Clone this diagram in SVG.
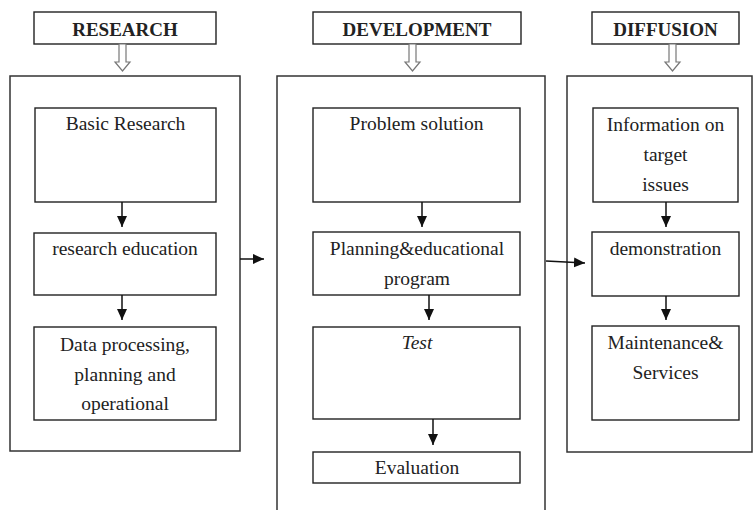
<svg xmlns="http://www.w3.org/2000/svg" width="754" height="510" viewBox="0 0 754 510">
<style>
  .box{fill:#fff;stroke:#222;stroke-width:1.4}
  .outer{fill:none;stroke:#333;stroke-width:1.5}
  .t{font-family:"Liberation Serif","Times New Roman","DejaVu Serif",serif;font-size:19.5px;fill:#222;text-anchor:middle}
  .h{font-weight:bold;font-size:19px}
  .it{font-style:italic}
  .c{stroke:#111;stroke-width:1.5;fill:none}
  .hollow{fill:#fff;stroke:#777;stroke-width:1.2}
</style>
<defs>
  <marker id="ah" markerUnits="userSpaceOnUse" markerWidth="12" markerHeight="12" viewBox="0 0 12 12" refX="11" refY="6" orient="auto">
    <path d="M0,1 L11,6 L0,11 Z" fill="#111"/>
  </marker>
</defs>
<rect width="754" height="510" fill="#fff"/>

<g id="research">
  <rect class="box" x="34" y="12" width="182" height="32"/>
  <text class="t h" x="125" y="36">RESEARCH</text>
  <polygon class="hollow" points="119,44 126,44 126,62 130,62 122.5,71 115,62 119,62"/>
  <rect class="outer" x="10" y="76" width="230" height="375"/>
</g>
<g id="basic-research">
  <rect class="box" x="35" y="108" width="181" height="94"/>
  <text class="t" x="125.5" y="130">Basic Research</text>
</g>
<g id="research-education">
  <rect class="box" x="34" y="233" width="182" height="62"/>
  <text class="t" x="125" y="255">research education</text>
</g>
<g id="data-processing">
  <rect class="box" x="34" y="327" width="182" height="93"/>
  <text class="t" x="125" y="351">Data processing,</text>
  <text class="t" x="125" y="381">planning and</text>
  <text class="t" x="125" y="410">operational</text>
</g>

<g id="development">
  <rect class="box" x="313" y="12" width="208" height="32"/>
  <text class="t h" x="417" y="36">DEVELOPMENT</text>
  <polygon class="hollow" points="409,44 416,44 416,62 420,62 412.5,71 405,62 409,62"/>
  <rect class="outer" x="277" y="76" width="268" height="440"/>
</g>
<g id="problem-solution">
  <rect class="box" x="313" y="108" width="207" height="94"/>
  <text class="t" x="416.5" y="130">Problem solution</text>
</g>
<g id="planning">
  <rect class="box" x="313" y="232" width="207" height="63"/>
  <text class="t" x="417" y="255">Planning&amp;educational</text>
  <text class="t" x="417" y="285">program</text>
</g>
<g id="test">
  <rect class="box" x="313" y="327" width="207" height="92"/>
  <text class="t it" x="417" y="349">Test</text>
</g>
<g id="evaluation">
  <rect class="box" x="313" y="452" width="207" height="31"/>
  <text class="t" x="417" y="474">Evaluation</text>
</g>

<g id="diffusion">
  <rect class="box" x="592" y="12" width="147" height="32"/>
  <text class="t h" x="665.5" y="36">DIFFUSION</text>
  <polygon class="hollow" points="669,44 676,44 676,62 680,62 672.5,71 665,62 669,62"/>
  <rect class="outer" x="567" y="76" width="185" height="376"/>
</g>
<g id="information">
  <rect class="box" x="593" y="108" width="145" height="94"/>
  <text class="t" x="665.5" y="131">Information on</text>
  <text class="t" x="665.5" y="161">target</text>
  <text class="t" x="665.5" y="191">issues</text>
</g>
<g id="demonstration">
  <rect class="box" x="592" y="232" width="147" height="64"/>
  <text class="t" x="665.5" y="255">demonstration</text>
</g>
<g id="maintenance">
  <rect class="box" x="592" y="326" width="147" height="94"/>
  <text class="t" x="665.5" y="349">Maintenance&amp;</text>
  <text class="t" x="665.5" y="379">Services</text>
</g>

<g id="connectors">
  <line class="c" x1="122" y1="202" x2="122" y2="227" marker-end="url(#ah)"/>
  <line class="c" x1="122" y1="295" x2="122" y2="320" marker-end="url(#ah)"/>
  <line class="c" x1="422" y1="202" x2="422" y2="227" marker-end="url(#ah)"/>
  <line class="c" x1="429" y1="295" x2="429" y2="320" marker-end="url(#ah)"/>
  <line class="c" x1="433" y1="419" x2="433" y2="445" marker-end="url(#ah)"/>
  <line class="c" x1="666" y1="202" x2="666" y2="227" marker-end="url(#ah)"/>
  <line class="c" x1="666" y1="296" x2="666" y2="320" marker-end="url(#ah)"/>
  <line class="c" x1="240" y1="259" x2="264" y2="259" marker-end="url(#ah)"/>
  <line class="c" x1="546" y1="261" x2="585" y2="263" marker-end="url(#ah)"/>
</g>
</svg>
